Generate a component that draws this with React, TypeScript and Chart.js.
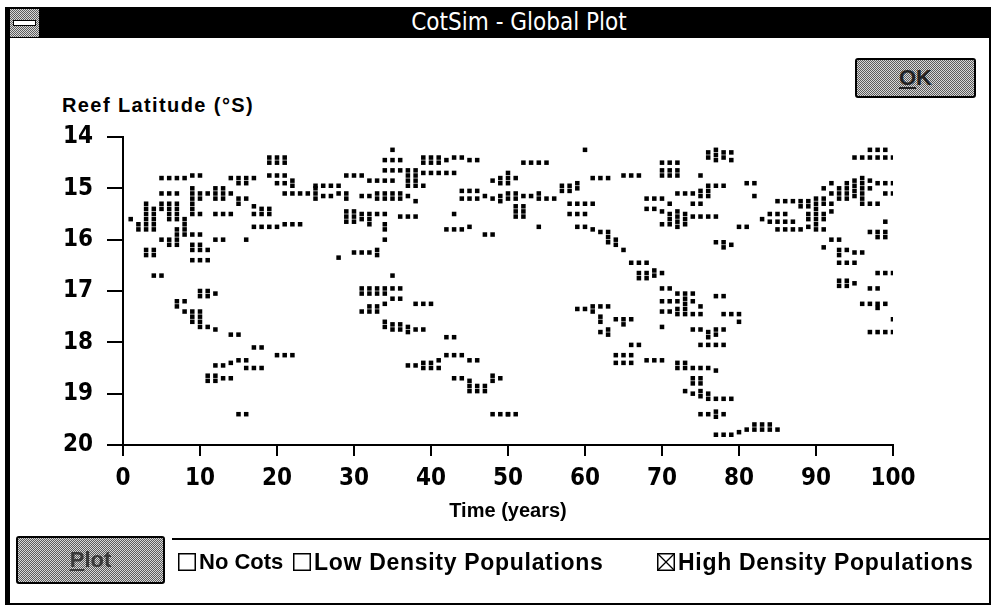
import React, { useEffect, useRef } from "react";
import { Chart, registerables } from "chart.js";
Chart.register(...registerables);

type P = [number, number];

const xTickValues = [0, 10, 20, 30, 40, 50, 60, 70, 80, 90, 100];
const yTickValues = [14, 15, 16, 17, 18, 19, 20];

// High density populations: [time (years), reef latitude (°S)]
const outbreaksA: P[] = [
  [1, 15.6], [2, 15.7], [3, 15.7], [4, 15.7], [2, 15.8], [3, 15.8], [4, 15.8],
  [3, 15.3], [3, 15.4], [3, 15.5], [3, 15.6], [4, 15.5], [4, 15.6], [4, 15.4], [5, 15.4],
  [3, 16.2], [4, 16.2], [3, 16.3], [4, 16.3], [4, 16.7], [5, 16.7],
  [5, 14.8], [6, 14.8], [7, 14.8], [8, 14.8], [9, 14.75], [10, 14.75],
  [5, 15.1], [6, 15.1], [7, 15.1],
  [5, 15.3], [6, 15.3], [7, 15.3], [6, 15.4], [7, 15.4], [6, 15.5], [7, 15.5], [6, 15.6], [7, 15.6],
  [5, 16.0], [6, 16.0], [7, 16.0], [6, 16.1], [7, 16.1],
  [7, 15.8], [8, 15.8], [7, 15.9], [8, 15.9], [9, 15.9], [10, 15.9], [8, 15.7], [8, 15.6],
  [9, 15.0], [9, 15.1], [9, 15.2], [9, 15.3], [9, 15.4], [10, 15.1], [10, 15.2], [10, 15.5], [9, 15.5],
  [11, 15.1], [12, 15.1], [13, 15.1], [14, 15.1], [12, 15.0], [13, 15.0], [12, 15.2], [13, 15.2],
  [15, 15.2], [16, 15.2], [15, 15.3], [12, 15.5], [13, 15.5], [14, 15.5],
  [9, 16.1], [10, 16.1], [9, 16.2], [10, 16.2], [11, 16.2], [9, 16.4], [10, 16.4], [11, 16.4],
  [12, 16.0], [13, 16.0], [16, 16.0],
  [14, 14.8], [15, 14.8], [16, 14.8], [17, 14.8], [15, 14.9], [16, 14.9],
  [17, 15.5], [18, 15.5], [19, 15.5], [18, 15.4], [19, 15.4], [17, 15.35],
  [17, 15.75], [18, 15.75], [19, 15.75], [20, 15.75], [21, 15.7], [22, 15.7], [23, 15.7],
  [19, 14.4], [20, 14.4], [21, 14.4], [19, 14.5], [20, 14.5], [21, 14.5],
  [19, 14.75], [20, 14.75], [21, 14.75], [20, 14.9], [21, 14.9], [22, 14.85], [22, 14.95],
  [21, 15.1], [22, 15.1], [23, 15.1], [24, 15.1], [25, 15.0], [25, 15.1], [25, 15.2], [26, 15.15],
  [27, 15.15], [28, 15.1], [29, 15.1], [29, 15.2], [25, 14.95], [26, 14.95], [27, 14.95], [28, 14.95],
];

const outbreaksB: P[] = [
  [10, 17.0], [11, 17.0], [12, 17.05], [10, 17.1], [11, 17.1],
  [7, 17.2], [8, 17.2], [7, 17.3],
  [8, 17.4], [9, 17.4], [9, 17.5], [10, 17.4], [10, 17.5], [9, 17.6], [10, 17.6],
  [10, 17.7], [11, 17.7], [12, 17.75], [14, 17.85], [15, 17.85], [17, 18.1], [18, 18.1],
  [20, 18.25], [21, 18.25], [22, 18.25], [12, 18.45], [13, 18.45], [14, 18.4], [15, 18.35], [16, 18.35],
  [16, 18.5], [17, 18.5], [18, 18.5],
  [11, 18.65], [11, 18.75], [12, 18.65], [12, 18.75], [13, 18.7], [14, 18.7], [15, 19.4], [16, 19.4],
];

const outbreaksC: P[] = [
  [35, 14.25], [34, 14.45], [35, 14.45], [36, 14.45],
  [39, 14.4], [39, 14.5], [40, 14.4], [40, 14.5], [41, 14.4], [41, 14.5], [42, 14.45], [43, 14.4],
  [44, 14.4], [45, 14.45], [46, 14.45],
  [34, 14.65], [35, 14.65], [36, 14.65],
  [37, 14.65], [37, 14.75], [37, 14.85], [38, 14.65], [38, 14.75], [38, 14.85], [39, 14.7], [40, 14.7],
  [41, 14.7], [42, 14.7], [43, 14.7],
  [29, 14.75], [30, 14.75], [31, 14.75], [32, 14.85], [33, 14.85], [34, 14.85], [35, 14.85],
  [37, 14.95], [38, 14.95], [39, 14.95],
  [48, 14.85], [49, 14.8], [49, 14.9], [50, 14.8], [50, 14.9],
  [31, 15.15], [32, 15.15], [33, 15.1], [33, 15.2], [34, 15.1], [34, 15.2], [35, 15.1], [35, 15.2],
  [36, 15.1], [36, 15.2], [37, 15.15], [38, 15.25],
  [44, 15.05], [45, 15.05], [46, 15.05],
  [44, 15.2], [45, 15.2], [46, 15.2], [47, 15.15], [48, 15.2], [49, 15.15], [49, 15.25], [50, 15.2],
  [29, 15.45], [29, 15.55], [29, 15.65], [30, 15.45], [30, 15.55], [30, 15.65], [31, 15.5], [31, 15.6],
  [32, 15.5], [32, 15.6], [32, 15.7], [33, 15.5], [34, 15.5], [36, 15.55], [37, 15.55], [38, 15.55],
  [34, 15.7], [34, 15.8], [43, 15.5], [42, 15.8], [43, 15.8], [44, 15.8], [45, 15.75],
  [47, 15.9], [48, 15.9], [34, 16.0], [28, 16.35],
  [30, 16.25], [31, 16.25], [32, 16.25], [33, 16.2], [33, 16.3], [35, 16.7],
  [31, 16.95], [32, 16.95], [33, 16.95], [34, 16.95], [35, 16.95], [36, 16.95],
];

const outbreaksD: P[] = [
  [31, 17.05], [32, 17.05], [33, 17.05],
  [31, 17.4], [32, 17.3], [32, 17.4], [33, 17.3], [33, 17.4], [34, 17.25],
  [34, 17.05], [35, 17.15], [36, 17.15], [38, 17.25], [39, 17.25], [40, 17.25],
  [34, 17.6], [34, 17.7], [35, 17.65], [35, 17.75], [36, 17.75], [37, 17.7], [37, 17.8], [38, 17.75],
  [39, 17.75], [36, 17.65],
  [42, 17.9], [43, 17.9], [42, 18.25], [43, 18.25], [44, 18.25], [45, 18.35], [46, 18.35],
  [37, 18.45], [38, 18.45], [39, 18.4], [39, 18.5], [40, 18.4], [40, 18.5], [41, 18.35], [41, 18.5],
  [43, 18.7], [44, 18.7], [45, 18.75],
  [45, 18.85], [46, 18.85], [47, 18.85], [45, 18.95], [46, 18.95], [47, 18.95],
  [48, 18.65], [48, 18.75], [49, 18.7], [48, 19.4], [49, 19.4], [50, 19.4],
];

const outbreaksE: P[] = [
  [60, 14.25], [52, 14.5], [53, 14.5], [54, 14.5], [55, 14.5],
  [50, 14.7], [51, 14.8], [61, 14.8], [62, 14.8], [63, 14.8], [65, 14.75], [66, 14.75], [67, 14.75],
  [57, 14.95], [57, 15.05], [58, 14.95], [58, 15.05], [59, 14.9], [59, 15.0],
  [50, 15.1], [51, 15.1], [51, 15.2], [52, 15.15], [53, 15.15], [54, 15.1], [54, 15.2], [55, 15.2], [56, 15.2],
  [51, 15.35], [51, 15.45], [51, 15.55], [52, 15.35], [52, 15.45], [52, 15.55],
  [58, 15.3], [59, 15.3], [60, 15.3], [61, 15.3], [58, 15.5], [59, 15.5], [60, 15.5],
  [54, 15.75], [59, 15.75], [60, 15.75], [61, 15.8], [62, 15.85], [63, 15.85],
  [63, 15.95], [63, 16.05], [64, 16.0], [64, 16.1], [65, 16.2],
  [66, 16.45], [67, 16.45], [68, 16.45],
  [67, 16.65], [67, 16.75], [68, 16.65], [68, 16.75], [69, 16.6], [69, 16.7], [70, 16.65],
  [70, 16.95], [71, 16.95],
];

const outbreaksF: P[] = [
  [59, 17.35], [60, 17.35], [61, 17.3], [61, 17.4], [62, 17.3], [63, 17.3],
  [62, 17.5], [62, 17.6], [63, 17.75], [63, 17.85], [62, 17.8],
  [64, 17.55], [65, 17.55], [66, 17.55], [65, 17.65], [66, 18.05], [67, 18.05],
  [64, 18.25], [65, 18.25], [66, 18.25], [64, 18.4], [65, 18.4], [66, 18.4],
  [68, 18.35], [69, 18.35], [70, 18.35], [50, 19.4], [51, 19.4],
];

const outbreaksG: P[] = [
  [76, 14.3], [76, 14.4], [77, 14.25], [77, 14.35], [77, 14.45], [78, 14.3], [78, 14.4], [79, 14.3], [79, 14.45],
  [70, 14.5], [71, 14.5], [72, 14.5],
  [70, 14.65], [71, 14.65], [72, 14.65], [70, 14.75], [71, 14.75], [72, 14.75], [75, 14.75],
  [76, 14.95], [77, 14.95], [78, 14.95], [81, 14.9], [82, 14.9], [82, 15.15],
  [68, 15.2], [69, 15.2], [70, 15.2], [71, 15.3],
  [72, 15.1], [73, 15.1], [74, 15.1], [75, 15.05], [75, 15.15], [76, 15.05], [76, 15.15],
  [68, 15.4], [69, 15.4],
  [70, 15.45], [71, 15.5], [71, 15.6], [72, 15.45], [72, 15.55], [72, 15.65], [73, 15.5], [73, 15.6], [74, 15.55],
  [70, 15.7], [71, 15.7], [72, 15.75], [73, 15.7],
  [74, 15.3], [75, 15.3], [75, 15.55], [76, 15.55], [77, 15.55],
  [80, 15.75], [81, 15.75], [83, 15.6], [77, 16.05], [78, 16.05], [78, 16.15], [79, 16.1],
  [72, 17.05], [73, 17.05], [74, 17.05],
];

const outbreaksH: P[] = [
  [85, 15.25], [86, 15.25], [87, 15.25], [88, 15.25],
  [84, 15.5], [85, 15.5], [86, 15.5],
  [84, 15.65], [85, 15.65], [86, 15.65], [87, 15.65],
  [85, 15.8], [86, 15.8], [87, 15.8], [88, 15.8], [88, 15.35],
  [89, 15.25], [89, 15.35], [89, 15.5], [89, 15.6], [90, 15.2], [90, 15.3], [90, 15.4], [90, 15.5],
  [90, 15.6], [90, 15.7], [91, 15.2], [91, 15.3], [91, 15.5], [91, 15.6], [92, 15.3], [92, 15.45],
  [89, 15.75], [90, 15.8], [91, 15.8],
  [92, 15.1], [93, 15.0], [93, 15.1], [93, 15.2], [94, 14.9], [94, 15.0], [94, 15.1], [94, 15.2],
  [95, 14.85], [95, 14.95], [95, 15.05], [95, 15.15], [96, 14.8], [96, 14.9], [96, 15.0], [96, 15.1],
  [96, 15.2], [97, 14.85], [97, 15.0], [92, 14.9], [91, 15.0],
  [96, 15.3], [97, 15.3], [98, 15.3],
  [95, 14.4], [96, 14.4], [97, 14.4], [98, 14.4], [99, 14.4], [100, 14.4],
  [97, 14.25], [98, 14.25], [99, 14.25],
  [98, 14.9], [99, 14.9], [100, 14.9], [99, 15.1], [100, 15.1],
  [92, 16.0], [93, 16.0], [93, 16.2], [94, 16.2], [95, 16.25], [96, 16.25], [93, 16.3], [91, 16.15],
  [93, 16.45], [94, 16.45], [95, 16.45],
  [97, 15.85], [98, 15.85], [99, 15.85], [98, 15.95], [99, 15.95], [99, 15.65],
  [98, 16.65], [99, 16.65], [100, 16.65],
  [93, 16.8], [93, 16.9], [94, 16.8], [94, 16.9], [95, 16.85], [97, 16.95], [98, 16.95],
];

const outbreaksI: P[] = [
  [96, 17.25], [97, 17.25], [98, 17.25], [98, 17.33], [99, 17.25], [100, 17.55],
  [97, 17.8], [98, 17.8], [99, 17.8], [100, 17.8],
  [70, 17.2], [71, 17.2], [72, 17.2], [73, 17.15], [73, 17.25], [74, 17.2], [75, 17.3],
  [70, 17.4], [71, 17.4], [72, 17.35], [72, 17.45], [73, 17.35], [73, 17.45], [74, 17.45], [75, 17.45],
  [70, 17.7],
  [74, 17.75], [75, 17.75], [76, 17.8], [76, 17.9], [77, 17.75], [77, 17.85], [78, 17.75],
  [75, 18.05], [76, 18.05], [77, 18.05], [78, 18.05],
  [77, 17.1], [78, 17.1], [78, 17.45], [79, 17.45], [80, 17.45], [80, 17.6],
  [72, 18.4], [72, 18.5], [73, 18.4], [73, 18.5], [74, 18.5], [75, 18.5], [76, 18.5], [77, 18.55],
  [74, 18.7], [74, 18.8], [75, 18.7], [75, 18.8],
  [73, 18.95], [74, 19.0], [75, 18.95], [75, 19.05], [76, 19.0], [76, 19.1], [77, 19.1], [78, 19.1], [79, 19.1],
  [75, 19.4], [76, 19.4], [77, 19.35], [77, 19.45], [78, 19.4],
  [77, 19.8], [78, 19.8], [79, 19.8], [80, 19.75],
  [81, 19.7], [82, 19.6], [82, 19.7], [83, 19.6], [83, 19.7], [84, 19.6], [84, 19.7], [85, 19.7],
];

const allOutbreaks: P[] = [
  ...outbreaksA, ...outbreaksB, ...outbreaksC, ...outbreaksD, ...outbreaksE,
  ...outbreaksF, ...outbreaksG, ...outbreaksH, ...outbreaksI,
];

const NARROW = '"Liberation Sans Narrow", "DejaVu Sans Condensed", "Arial Narrow", sans-serif';
const SANS = '"Liberation Sans", Arial, sans-serif';
const CHECKER = "repeating-conic-gradient(#5c5c5c 0% 25%, #d8d8d8 0% 50%) 0 0 / 2px 2px";

function Checkbox({ left, label, checked, size, spacing }: { left: number; label: string; checked: boolean; size: number; spacing: number }) {
  return (
    <div style={{ position: "absolute", left, top: 551, height: 22, display: "flex", alignItems: "center" }}>
      <svg width={18} height={18} style={{ display: "block" }}>
        <rect x={0.75} y={0.75} width={16.5} height={16.5} fill="#fff" stroke="#000" strokeWidth={1.5} />
        {checked && (
          <g stroke="#000" strokeWidth={1.3}>
            <line x1={1} y1={1} x2={17} y2={17} />
            <line x1={17} y1={1} x2={1} y2={17} />
          </g>
        )}
      </svg>
      <span style={{ marginLeft: 3, font: `bold ${size}px ${SANS}`, letterSpacing: `${spacing}px`, color: "#000", whiteSpace: "nowrap" }}>{label}</span>
    </div>
  );
}

export default function App() {
  const ref = useRef<HTMLCanvasElement | null>(null);

  useEffect(() => {
    if (!ref.current) return;
    const chart = new Chart(ref.current, {
      type: "scatter",
      data: {
        datasets: [
          {
            label: "High Density Populations",
            data: allOutbreaks.map(([x, y]) => ({ x, y })),
            pointStyle: "rect",
            pointRadius: 3.2,
            pointHoverRadius: 3.2,
            backgroundColor: "#000",
            borderWidth: 0,
          },
        ],
      },
      options: {
        animation: false,
        responsive: false,
        maintainAspectRatio: false,
        events: [],
        layout: { padding: { left: 0, right: 103, top: 137, bottom: 90 } },
        plugins: { legend: { display: false }, tooltip: { enabled: false } },
        scales: {
          x: {
            type: "linear",
            min: 0,
            max: 100,
            afterBuildTicks: (s: any) => {
              s.ticks = xTickValues.map((v) => ({ value: v }));
            },
            afterFit: (s: any) => {
              s.height = 78;
            },
            ticks: {
              color: "#000",
              font: { family: NARROW, weight: "bold", size: 24 },
              padding: 8,
              maxRotation: 0,
              autoSkip: false,
            },
            grid: { display: true, drawOnChartArea: false, drawTicks: true, tickLength: 11, color: "#000", lineWidth: 2 },
            border: { display: true, color: "#000", width: 2 },
            title: {
              display: true,
              text: "Time (years)",
              color: "#000",
              font: { family: SANS, weight: "bold", size: 20 },
              padding: { top: 0, bottom: 0 },
            },
          },
          y: {
            type: "linear",
            reverse: true,
            min: 14,
            max: 20,
            afterBuildTicks: (s: any) => {
              s.ticks = yTickValues.map((v) => ({ value: v }));
            },
            afterFit: (s: any) => {
              s.width = 123;
            },
            ticks: {
              color: "#000",
              font: { family: NARROW, weight: "bold", size: 24 },
              padding: 14,
              autoSkip: false,
            },
            grid: { display: true, drawOnChartArea: false, drawTicks: true, tickLength: 16, color: "#000", lineWidth: 2 },
            border: { display: true, color: "#000", width: 2 },
          },
        },
      },
    } as any);
    return () => chart.destroy();
  }, []);

  return (
    <div style={{ position: "absolute", left: 0, top: 0, width: 996, height: 613, background: "#fff", overflow: "hidden" }}>
      {/* window frame */}
      <div style={{ position: "absolute", left: 5, top: 7, width: 986, height: 598, boxSizing: "border-box", border: "2px solid #000", borderLeft: "5px solid #000" }} />
      {/* title bar */}
      <div style={{ position: "absolute", left: 8, top: 8, width: 982, height: 30, background: "#000" }}>
        <div style={{ position: "absolute", left: 40, right: 0, top: 0, height: 30, lineHeight: "30px", textAlign: "center", color: "#fff", font: `24px ${NARROW}` }}>
          CotSim - Global Plot
        </div>
      </div>
      {/* system menu box */}
      <div style={{ position: "absolute", left: 10, top: 9, width: 29, height: 28, background: CHECKER }}>
        <div style={{ position: "absolute", left: 3, top: 11, width: 21, height: 4, background: "#fff", border: "1px solid #000" }} />
      </div>
      {/* OK button */}
      <div style={{ position: "absolute", left: 855, top: 58, width: 121, height: 40, boxSizing: "border-box", border: "2px solid #000", borderRadius: 3, background: CHECKER, display: "flex", alignItems: "center", justifyContent: "center", font: `bold 22px ${SANS}`, color: "#222" }}>
        <span><u>O</u>K</span>
      </div>
      {/* y axis title */}
      <div style={{ position: "absolute", left: 62, top: 94, font: `bold 20px ${SANS}`, letterSpacing: "1.4px", color: "#000", whiteSpace: "nowrap" }}>
        Reef Latitude (°S)
      </div>
      <canvas ref={ref} width={996} height={613} style={{ position: "absolute", left: 0, top: 0, width: 996, height: 613 }} />
      {/* bottom controls */}
      <div style={{ position: "absolute", left: 172, top: 538, width: 818, height: 2, background: "#000" }} />
      <div style={{ position: "absolute", left: 16, top: 536, width: 149, height: 48, boxSizing: "border-box", border: "2px solid #000", borderRadius: 3, background: CHECKER, display: "flex", alignItems: "center", justifyContent: "center", font: `bold 22px ${SANS}`, color: "#3a3a3a" }}>
        <span><u>P</u>lot</span>
      </div>
      <Checkbox left={178} label="No Cots" checked={false} size={22} spacing={0} />
      <Checkbox left={293} label="Low Density Populations" checked={false} size={23} spacing={0.7} />
      <Checkbox left={657} label="High Density Populations" checked={true} size={23} spacing={0.7} />
    </div>
  );
}
